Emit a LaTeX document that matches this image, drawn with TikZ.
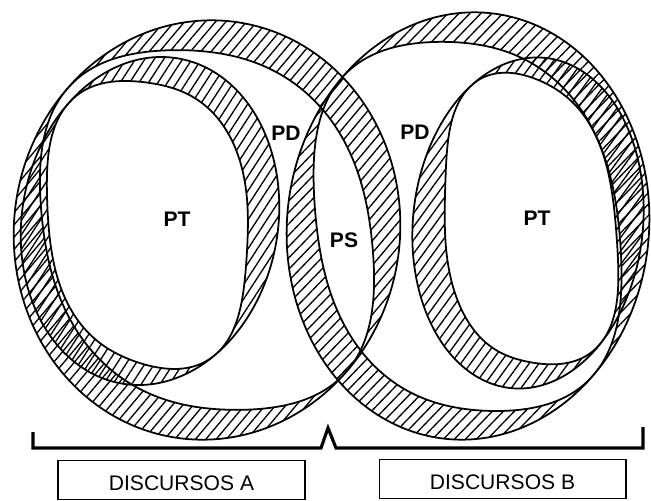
\documentclass[tikz,border=0pt]{standalone}
\usepackage{fontspec}
\setmainfont{Liberation Sans}
\usetikzlibrary{patterns.meta}

% Epaisseur de la bande : nulle (et tangente) en t1 et t2
\newcommand{\ecart}[2]{(4*(sin((\t-#1)/2)*sin((\t-#2)/2))^2)}
\newcommand{\epais}[3]{(#1*(1-exp(-\ecart{#2}{#3}/0.3)))}

% Anneau hachure : #1 cx, #2 cy, #3 A, #4 B, #5 rotation, #6 epaisseur, #7 t1, #8 t2, #9 angle des hachures
\newcommand{\bande}[9]{%
  \def\cheminExt{plot[domain=0:360, samples=181, smooth, variable=\t]
    ({#1 + #3*cos(\t)*cos(#5) - #4*sin(\t)*sin(#5)},
     {#2 + #3*cos(\t)*sin(#5) + #4*sin(\t)*cos(#5)}) -- cycle}%
  \def\cheminInt{plot[domain=0:360, samples=181, smooth, variable=\t]
    ({#1 + (#3-\epais{#6}{#7}{#8})*cos(\t)*cos(#5) - (#4-\epais{#6}{#7}{#8})*sin(\t)*sin(#5)},
     {#2 + (#3-\epais{#6}{#7}{#8})*cos(\t)*sin(#5) + (#4-\epais{#6}{#7}{#8})*sin(\t)*cos(#5)}) -- cycle}%
  \begin{scope}
    \clip \cheminExt;
    \fill[pattern={Lines[angle=#9,distance=4.5pt,line width=0.75pt]}, even odd rule] \cheminExt \cheminInt;
    \draw[contour] \cheminInt;
  \end{scope}
  \draw[contour] \cheminExt;
}

\begin{document}
\begin{tikzpicture}[x=0.02cm, y=-0.02cm]
    \tikzset{
        contour/.style={black, line width=1pt},
        etiquette/.style={font=\fontsize{12}{14}\selectfont\bfseries},
        boite/.style={draw, line width=0.6pt, minimum width=4.94cm, minimum height=0.78cm, inner sep=0pt, text height=12pt, font=\fontsize{12}{14}\selectfont},
        accolade/.style={line width=1.8pt, line join=miter}
    }
    \useasboundingbox (0,0) rectangle (651,500);

    % Discursos A : anneau externe et anneau PT
    \bande{207}{230}{193}{210}{8}{38}{215}{35}{50}
    \bande{150}{221}{128}{165}{10}{34}{218}{47}{57}

    % Discursos B : anneau externe et anneau PT
    \bande{468}{226}{181}{214}{6}{38}{218}{39}{46}
    \bande{528}{223}{115}{166}{6}{35}{232}{42}{54}

    % Etiquettes
    \node[etiquette] (ptA) at (177,219) {PT};
    \node[etiquette] (pdA) at (286,133) {PD};
    \node[etiquette] (ps) at (344,240) {PS};
    \node[etiquette] (pdB) at (415,132) {PD};
    \node[etiquette] (ptB) at (537,218) {PT};

    % Accolade
    \coordinate (accG) at (33,432);
    \coordinate (pic) at (328,428);
    \coordinate (accD) at (643,427);
    \draw[accolade] (accG) |- (321,448) -- (pic) -- (336,448) -| (accD);

    % Boites
    \node[boite] (discA) at (181.5,480) {DISCURSOS A};
    \node[boite] (discB) at (502.5,479) {DISCURSOS B};
\end{tikzpicture}
\end{document}
